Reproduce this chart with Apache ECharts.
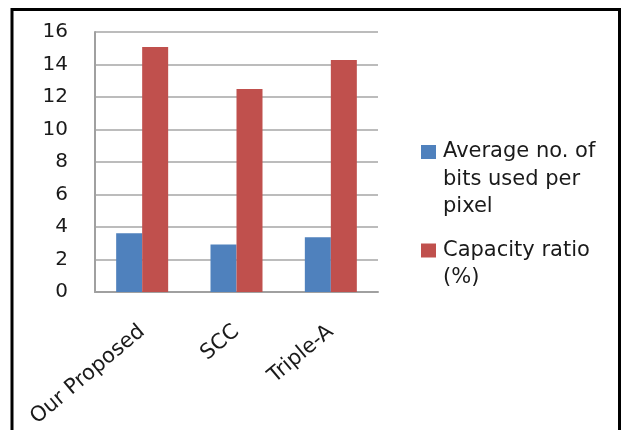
<!DOCTYPE html>
<html>
<head>
<meta charset="utf-8">
<title>Bits per pixel and capacity ratio</title>
<script src="https://cdn.jsdelivr.net/npm/echarts@6/dist/echarts.min.js"></script>
<style>
  html, body { margin: 0; padding: 0; background: #ffffff; }
  #chart { width: 623px; height: 430px; }
</style>
</head>
<body>
<div id="chart"></div>
<script>
// Methods compared
const categories = ['Our Proposed', 'SCC', 'Triple-A'];

// Average number of bits used per pixel
const avgBitsPerPixel = [3.61, 2.93, 3.37];

// Capacity ratio in percent
const capacityRatio = [15.08, 12.5, 14.28];

// Value axis ticks
const yTicks = [0, 2, 4, 6, 8, 10, 12, 14, 16];

const seriesNames = ['Average no. of bits used per pixel', 'Capacity ratio (%)'];
const legendLines = {
  'Average no. of bits used per pixel': ['Average no. of', 'bits used per', 'pixel'],
  'Capacity ratio (%)': ['Capacity ratio', '(%)']
};

const FONT = 'DejaVu Sans';
const LINE_H = 27.5;
const MARK_W = 15;
const MARK_H = 14;
const MARK_BOX_W = 17;
const textColor = '#1a1a1a';

const chart = echarts.init(document.getElementById('chart'), null, { renderer: 'canvas' });

// One legend per series. The marker path sits at the top-left of a larger icon box
// (a lone move-to sets the box size), so it lines up with the first text line.
function legendFor(name, markerTop) {
  const lines = legendLines[name].length;
  const boxH = (lines - 1) * LINE_H + MARK_H;
  const icon = 'path://M0,0L' + MARK_W + ',0L' + MARK_W + ',' + MARK_H + 'L0,' + MARK_H + 'Z' +
               'M' + MARK_BOX_W + ',' + boxH;
  const textTop = boxH / 2 - lines * LINE_H / 2;
  return {
    orient: 'vertical',
    left: 421,
    top: markerTop + Math.min(0, textTop),
    padding: 0,
    itemWidth: MARK_BOX_W,
    itemHeight: boxH,
    itemGap: 0,
    icon: icon,
    selectedMode: false,
    data: [name],
    formatter: n => legendLines[n].join('\n'),
    textStyle: {
      fontFamily: FONT,
      fontSize: 21,
      lineHeight: LINE_H,
      color: textColor
    }
  };
}

const option = {
  animation: false,
  backgroundColor: '#ffffff',
  color: ['#4F81BD', '#C0504D'],
  grid: {
    left: 95, right: 245, top: 32, bottom: 138,
    containLabel: false,
    outerBoundsMode: 'none'
  },
  legend: [
    legendFor(seriesNames[0], 145),
    legendFor(seriesNames[1], 243.5)
  ],
  xAxis: {
    type: 'category',
    data: categories,
    axisTick: { show: false },
    axisLine: { lineStyle: { color: '#a0a0a0', width: 2 } },
    axisLabel: {
      interval: 0,
      rotate: 40,
      margin: 37,
      fontFamily: FONT,
      fontSize: 21,
      color: textColor
    }
  },
  yAxis: {
    type: 'value',
    min: yTicks[0],
    max: yTicks[yTicks.length - 1],
    interval: yTicks[1] - yTicks[0],
    axisTick: { show: false },
    axisLine: { show: true, lineStyle: { color: '#a0a0a0', width: 2 } },
    splitLine: { lineStyle: { color: '#a6a6a6', width: 1.5 } },
    axisLabel: {
      margin: 27,
      fontFamily: FONT,
      fontSize: 20,
      color: textColor
    }
  },
  series: [
    {
      name: seriesNames[0],
      type: 'bar',
      data: avgBitsPerPixel,
      barWidth: 26,
      barGap: '0%'
    },
    {
      name: seriesNames[1],
      type: 'bar',
      data: capacityRatio,
      barWidth: 26,
      barGap: '0%'
    }
  ],
  graphic: [{
    type: 'rect',
    z: 100,
    silent: true,
    shape: { x: 12, y: 9.5, width: 607.5, height: 500 },
    style: { fill: 'none', stroke: '#000000', lineWidth: 3 }
  }]
};

chart.setOption(option);
</script>
</body>
</html>
